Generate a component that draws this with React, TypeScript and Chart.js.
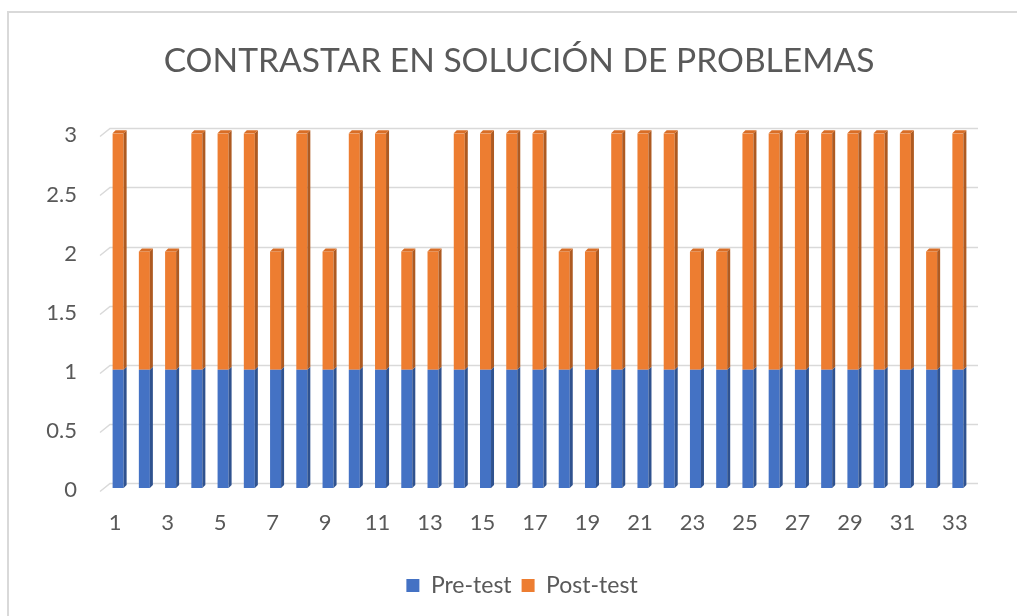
import React, { useEffect, useRef } from "react";
import { Chart, registerables } from "chart.js";

Chart.register(...registerables);

const categories = [
  "1", "2", "3", "4", "5", "6", "7", "8", "9", "10", "11",
  "12", "13", "14", "15", "16", "17", "18", "19", "20", "21", "22",
  "23", "24", "25", "26", "27", "28", "29", "30", "31", "32", "33",
];

const preTest = [
  1, 1, 1, 1, 1, 1, 1, 1, 1, 1, 1,
  1, 1, 1, 1, 1, 1, 1, 1, 1, 1, 1,
  1, 1, 1, 1, 1, 1, 1, 1, 1, 1, 1,
];

const postTest = [
  2, 1, 1, 2, 2, 2, 1, 2, 1, 2, 2,
  1, 1, 2, 2, 2, 2, 1, 1, 2, 2, 2,
  1, 1, 2, 2, 2, 2, 2, 2, 2, 1, 2,
];

const seriesNames = ["Pre-test", "Post-test"];
const title = "CONTRASTAR EN SOLUCIÓN DE PROBLEMAS";
const yTicks = [0, 0.5, 1, 1.5, 2, 2.5, 3];
const yTickLabels = ["0", "0.5", "1", "1.5", "2", "2.5", "3"];

const frontColors = ["#4472C4", "#ED7D31"];
const sideColors = ["#2F528F", "#AE5A21"];
const topColors = ["#5B84CC", "#D86E27"];
const textColor = "#595959";
const gridColor = "#D9D9D9";
const FONT = "Lato, 'Open Sans', sans-serif";

const bar3d = {
  id: "bar3d",
  afterLayout(chart: any) {
    if (chart.legend) {
      chart.legend.left += 14;
      chart.legend.right += 14;
    }
    if (chart.titleBlock) {
      chart.titleBlock.left += 11;
      chart.titleBlock.right += 11;
    }
  },
  beforeDatasetsDraw(chart: any) {
    const { ctx, chartArea, scales } = chart;
    const y = scales.y;
    ctx.save();
    ctx.strokeStyle = gridColor;
    ctx.lineWidth = 1.5;
    yTicks.forEach((v) => {
      const py = Math.round(y.getPixelForValue(v)) + 0.5;
      ctx.beginPath();
      ctx.moveTo(chartArea.left - 5, py + 3);
      ctx.lineTo(chartArea.left + 5, py - 5);
      ctx.lineTo(chartArea.right + 7, py - 5);
      ctx.stroke();
    });
    ctx.restore();
  },
  afterDatasetsDraw(chart: any) {
    const ctx = chart.ctx;
    const d = 3;
    const last = chart.data.datasets.length - 1;
    ctx.save();
    chart.data.datasets.forEach((_ds: any, di: number) => {
      const meta = chart.getDatasetMeta(di);
      meta.data.forEach((bar: any) => {
        const { x, y, base, width } = bar.getProps(["x", "y", "base", "width"], true);
        const r = x + width / 2;
        const l = x - width / 2;
        ctx.fillStyle = sideColors[di];
        ctx.beginPath();
        ctx.moveTo(r, y);
        ctx.lineTo(r + d, y - d);
        ctx.lineTo(r + d, base - d);
        ctx.lineTo(r, base);
        ctx.closePath();
        ctx.fill();
        if (di === last) {
          ctx.fillStyle = topColors[di];
          ctx.beginPath();
          ctx.moveTo(l, y);
          ctx.lineTo(l + d, y - d);
          ctx.lineTo(r + d, y - d);
          ctx.lineTo(r, y);
          ctx.closePath();
          ctx.fill();
        }
      });
    });
    ctx.restore();
  },
};

export default function App() {
  const canvasRef = useRef<HTMLCanvasElement | null>(null);

  useEffect(() => {
    if (!canvasRef.current) return;
    const chart = new Chart(canvasRef.current, {
      type: "bar",
      data: {
        labels: categories,
        datasets: [
          {
            label: seriesNames[0],
            data: preTest,
            backgroundColor: frontColors[0],
            borderWidth: 0,
            barPercentage: 0.42,
            categoryPercentage: 1,
          },
          {
            label: seriesNames[1],
            data: postTest,
            backgroundColor: frontColors[1],
            borderWidth: 0,
            barPercentage: 0.42,
            categoryPercentage: 1,
          },
        ],
      },
      options: {
        responsive: false,
        animation: false,
        layout: { padding: { left: 45, right: 46, top: 0, bottom: 9 } },
        plugins: {
          title: {
            display: true,
            text: title,
            color: textColor,
            font: { family: FONT, size: 33.6, weight: "normal" },
            padding: { top: 41, bottom: 52 },
          },
          legend: {
            position: "bottom",
            labels: {
              color: textColor,
              boxWidth: 13,
              boxHeight: 13,
              padding: 10,
              font: { family: FONT, size: 23 },
            },
          },
          tooltip: { enabled: false },
        },
        scales: {
          x: {
            stacked: true,
            grid: { display: false, drawTicks: false },
            border: { display: false },
            afterFit: (scale: any) => {
              scale.height = 76;
            },
            ticks: {
              color: textColor,
              font: { family: FONT, size: 22 },
              padding: 22,
              autoSkip: false,
              maxRotation: 0,
              labelOffset: -3,
              callback: (_v: any, i: number) => (i % 2 === 0 ? categories[i] : ""),
            },
          },
          y: {
            stacked: true,
            min: 0,
            max: 3,
            grid: { display: false, drawTicks: false },
            border: { display: false },
            afterFit: (scale: any) => {
              scale.width = 60;
            },
            ticks: {
              color: textColor,
              font: { family: FONT, size: 22 },
              padding: 28,
              stepSize: 0.5,
              labelOffset: 2,
              callback: (v: any) => {
                const i = yTicks.indexOf(Number(v));
                return i >= 0 ? yTickLabels[i] : "";
              },
            },
          },
        },
      },
      plugins: [bar3d],
    });
    return () => chart.destroy();
  }, []);

  return (
    <div
      style={{
        position: "fixed",
        left: 0,
        top: 0,
        width: 1017,
        height: 616,
        background: "#fff",
        overflow: "hidden",
      }}
    >
      <div
        style={{
          position: "absolute",
          left: 7,
          top: 11,
          width: 1040,
          height: 640,
          border: "2px solid #D9D9D9",
        }}
      />
      <canvas
        ref={canvasRef}
        width={1017}
        height={616}
        style={{ position: "absolute", left: 0, top: 0, display: "block" }}
      />
    </div>
  );
}
